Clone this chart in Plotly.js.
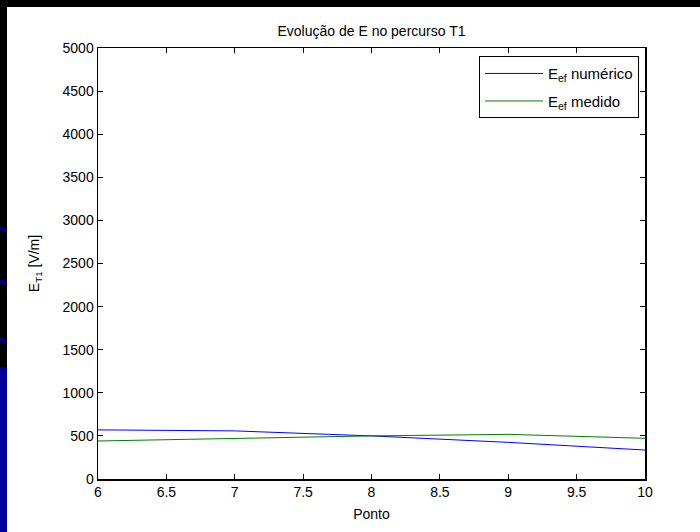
<!DOCTYPE html>
<html>
<head>
<meta charset="utf-8">
<script src="https://cdn.plot.ly/plotly-3.0.1.min.js"></script>
<style>
  html, body { margin: 0; padding: 0; background: #000; width: 700px; height: 532px; overflow: hidden; }
  #strip { position: absolute; left: 0; top: 0; width: 7px; height: 532px; background: #000; overflow: hidden; }
  .mark { position: absolute; left: -4px; width: 16px; height: 3px; background: #000099; transform: rotate(25deg); }
  #blue { position: absolute; left: 0; top: 367px; width: 7px; height: 165px; background: #000099; }
  #chart { position: absolute; left: 7px; top: 7px; width: 693px; height: 525px; background: #fff; }
</style>
</head>
<body>
<div id="strip">
  <div class="mark" style="top:228px"></div>
  <div class="mark" style="top:281px"></div>
  <div class="mark" style="top:339px"></div>
  <div id="blue"></div>
</div>
<div id="chart"></div>
<script>
const pontos = [6, 7, 8, 9, 10];
const efNumerico = [570, 558, 500, 425, 336];
const efMedido = [441, 472, 500, 518, 472];
const xTickVals = [6, 6.5, 7, 7.5, 8, 8.5, 9, 9.5, 10];
const xTickText = ["6", "6.5", "7", "7.5", "8", "8.5", "9", "9.5", "10"];
const yTickVals = [0, 500, 1000, 1500, 2000, 2500, 3000, 3500, 4000, 4500, 5000];
const yTickText = ["0", "500", "1000", "1500", "2000", "2500", "3000", "3500", "4000", "4500", "5000"];

const font = { family: "Liberation Sans, Arial, sans-serif", size: 14, color: "#000" };
const legendFont = { family: "Liberation Sans, Arial, sans-serif", size: 15, color: "#000" };

const traces = [
  { x: pontos, y: efNumerico, type: "scatter", mode: "lines", legendgroup: "a",
    name: "E<sub>ef</sub> numérico", line: { color: "#0000ff", width: 1 } },
  { x: pontos, y: efMedido, type: "scatter", mode: "lines", legendgroup: "b",
    name: "E<sub>ef</sub> medido", line: { color: "#008000", width: 1 } }
];

const axisCommon = {
  showline: true, linecolor: "#000", linewidth: 1.5, mirror: "allticks",
  ticks: "inside", ticklen: 5, tickcolor: "#000", tickwidth: 1,
  showgrid: false, zeroline: false, tickfont: font, automargin: false
};

const layout = {
  width: 693, height: 525,
  margin: { l: 91, r: 55, t: 41, b: 53 },
  paper_bgcolor: "#fff", plot_bgcolor: "#fff",
  font: font,
  title: { text: "Evolução de E no percurso T1", font: font,
           x: 0.5, xref: "paper", y: 1 - 24 / 525, yref: "container", yanchor: "middle" },
  xaxis: Object.assign({}, axisCommon, {
    range: [6, 10], tickmode: "array", tickvals: xTickVals, ticktext: xTickText,
    title: { text: "Ponto", font: font, standoff: 10 }
  }),
  yaxis: Object.assign({}, axisCommon, {
    range: [0, 5000], tickmode: "array", tickvals: yTickVals, ticktext: yTickText,
    title: { text: "E<sub>T1</sub> [V/m]", font: font, standoff: 19 }
  }),
  showlegend: true,
  legend: {
    x: 0.989, y: 0.981, xanchor: "right", yanchor: "top",
    bordercolor: "#000", borderwidth: 1, bgcolor: "#fff",
    font: legendFont, tracegroupgap: 5, itemwidth: 58, traceorder: "grouped"
  }
};

Plotly.newPlot("chart", traces, layout, { displayModeBar: false, staticPlot: true });
</script>
</body>
</html>
